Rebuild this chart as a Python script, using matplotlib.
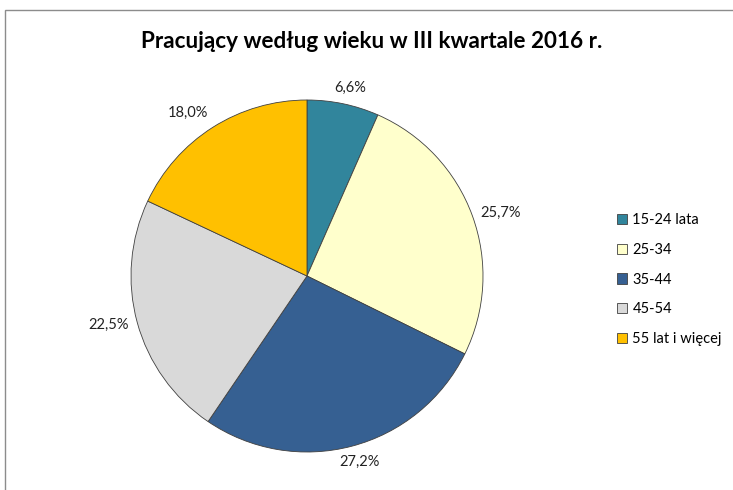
import matplotlib
matplotlib.use("Agg")
import matplotlib.pyplot as plt
from matplotlib.patches import Rectangle
import numpy as np

plt.rcParams['font.family'] = ['Lato', 'DejaVu Sans']

title = "Pracujący według wieku w III kwartale 2016 r."
categories = ["15-24 lata", "25-34", "35-44", "45-54", "55 lat i więcej"]
values = [6.6, 25.7, 27.2, 22.5, 18.0]
colors = ["#31859C", "#FFFFCC", "#366092", "#D9D9D9", "#FFC000"]

W, H = 733, 490
fig = plt.figure(figsize=(W/100, H/100), dpi=100)

cx, cy, R = 307, 276, 176
lim = 1.3
side = 2 * R * lim
ax = fig.add_axes([(cx - side/2)/W, (H - cy - side/2)/H, side/W, side/H])
wedges, _ = ax.pie(values, colors=colors, startangle=90, counterclock=False,
                   wedgeprops=dict(edgecolor="#404040", linewidth=0.6))
ax.set_xlim(-lim, lim)
ax.set_ylim(-lim, lim)
ax.set_aspect('equal')
ax.axis('off')

total = sum(values)
cum = 0
for v in values:
    mid = np.deg2rad(90 - (cum + v/2) / total * 360)
    cum += v
    c, s = np.cos(mid), np.sin(mid)
    ha = 'left' if c > 0.4 else ('right' if c < -0.4 else 'center')
    va = 'bottom' if s > 0.4 else ('top' if s < -0.4 else 'center')
    ax.text(1.05*c + 0.03*np.sign(c)*(ha == 'center'), 1.05*s,
            f"{v:.1f}%".replace('.', ','),
            ha=ha, va=va, fontsize=10.5, color='#222222')

fig.text(372/W, 1 - 41/H, title, ha='center', va='center', fontsize=16.2,
         fontweight='bold', color='black')

leg = fig.legend(wedges, categories, loc='upper left',
                 bbox_to_anchor=(604/W, 1 - 200/H), frameon=False,
                 fontsize=10.5, handlelength=0.7, handleheight=0.7,
                 handletextpad=0.35, labelspacing=1.08)

fig.patches.append(Rectangle((5/W, -0.1), 1.1, 1.1 - 10/H, transform=fig.transFigure,
                             fill=False, edgecolor='#8C8C8C', linewidth=1))

fig.savefig("out.png", dpi=100)
